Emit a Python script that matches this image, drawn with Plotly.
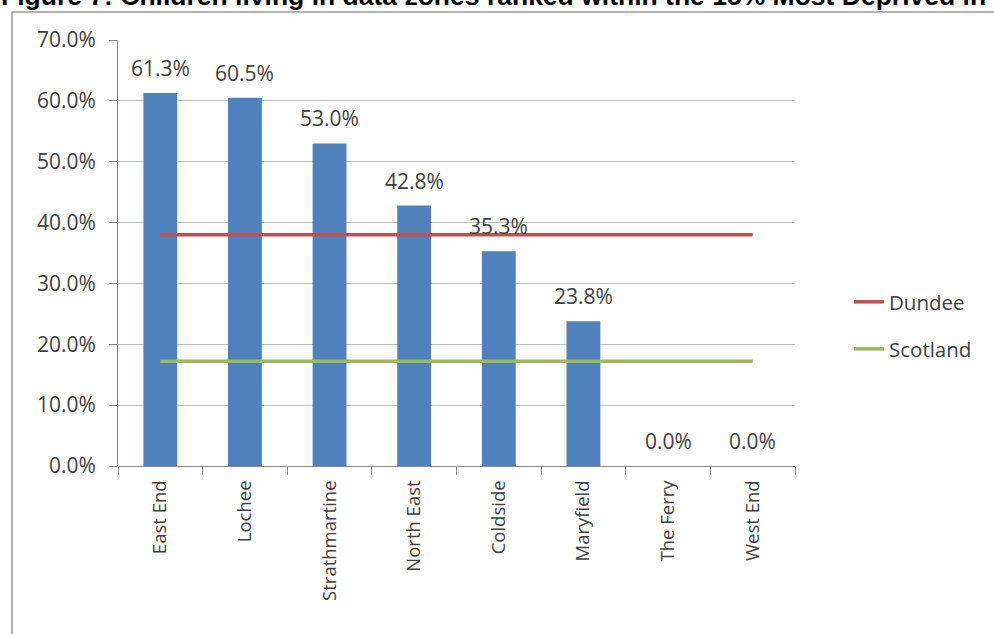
import plotly.graph_objects as go

# Share of children living in data zones in the 15% most deprived, by ward
wards = ["East End", "Lochee", "Strathmartine", "North East",
         "Coldside", "Maryfield", "The Ferry", "West End"]
ward_pct = [61.3, 60.5, 53.0, 42.8, 35.3, 23.8, 0.0, 0.0]
dundee_pct = 38.0
scotland_pct = 17.2

y_ticks = [0, 10, 20, 30, 40, 50, 60, 70]
y_tick_text = [f"{v:.1f}%" for v in y_ticks]

FONT = "Open Sans"
TXT = "#404040"
FS = 21

# plot area in pixels (width 994 x height 634)
L, R, T, B = 118, 199, 40, 168
W, H = 994, 634
pw, ph = W - L - R, H - T - B


def px_x(x):
    return (x - L) / pw


def px_y(y):
    return 1 - (y - T) / ph


fig = go.Figure()

fig.add_trace(go.Bar(
    x=wards, y=ward_pct, marker=dict(color="#4F81BD", line=dict(width=0)),
    showlegend=False, hoverinfo="x+y",
))

fig.add_trace(go.Scatter(
    x=wards, y=[dundee_pct] * len(wards), mode="lines", name="Dundee",
    line=dict(color="#C0504D", width=3.5), legend="legend",
))
fig.add_trace(go.Scatter(
    x=wards, y=[scotland_pct] * len(wards), mode="lines", name="Scotland",
    line=dict(color="#9BBB59", width=3.5), legend="legend2",
))

# value labels above each bar
for w, v in zip(wards, ward_pct):
    fig.add_annotation(
        x=w, y=v, xref="x", yref="y", text=f"{v:.1f}%", showarrow=False,
        yanchor="bottom", yshift=9, font=dict(family=FONT, size=FS, color=TXT),
    )

# figure caption along the top edge
fig.add_annotation(
    x=px_x(-1), y=px_y(13), xref="paper", yref="paper", xanchor="left",
    yanchor="bottom", showarrow=False,
    text="Figure 7: Children living in data zones ranked within the 15% Most Deprived in Scotland",
    font=dict(family="Arial", size=26.5, color="#000000", weight="bold"), align="left",
)

# chart frame
fig.add_shape(
    type="rect", xref="paper", yref="paper",
    x0=px_x(12), y0=px_y(700), x1=px_x(1100), y1=px_y(12),
    line=dict(color="#9A9A9A", width=1.5), fillcolor="rgba(0,0,0,0)", layer="below",
)

legend_common = dict(
    xref="paper", yref="paper", xanchor="left", yanchor="middle",
    bgcolor="rgba(0,0,0,0)", font=dict(family=FONT, size=20.5, color=TXT),
    itemwidth=30,
)

fig.update_layout(
    width=W, height=H,
    margin=dict(l=L, r=R, t=T, b=B),
    paper_bgcolor="white", plot_bgcolor="white",
    bargap=0.6,
    font=dict(family=FONT, size=FS, color=TXT),
    legend=dict(x=px_x(849), y=px_y(302), **legend_common),
    legend2=dict(x=px_x(849), y=px_y(349), **legend_common),
    xaxis=dict(
        type="category", tickangle=-90, ticks="outside", tickson="boundaries",
        ticklen=8, tickcolor="#868686", showline=True, linecolor="#868686",
        linewidth=1, showgrid=False, ticklabelstandoff=6,
        tickfont=dict(family=FONT, size=18.5, color=TXT),
    ),
    yaxis=dict(
        range=[0, 70], tickvals=y_ticks, ticktext=y_tick_text, ticks="outside",
        ticklen=8, tickcolor="#868686", showline=True, linecolor="#868686",
        linewidth=1, showgrid=True, gridcolor="#BFBFBF", gridwidth=1,
        zeroline=False, ticklabelstandoff=9,
        tickfont=dict(family=FONT, size=FS, color=TXT),
    ),
)

fig.write_html("out.html")
